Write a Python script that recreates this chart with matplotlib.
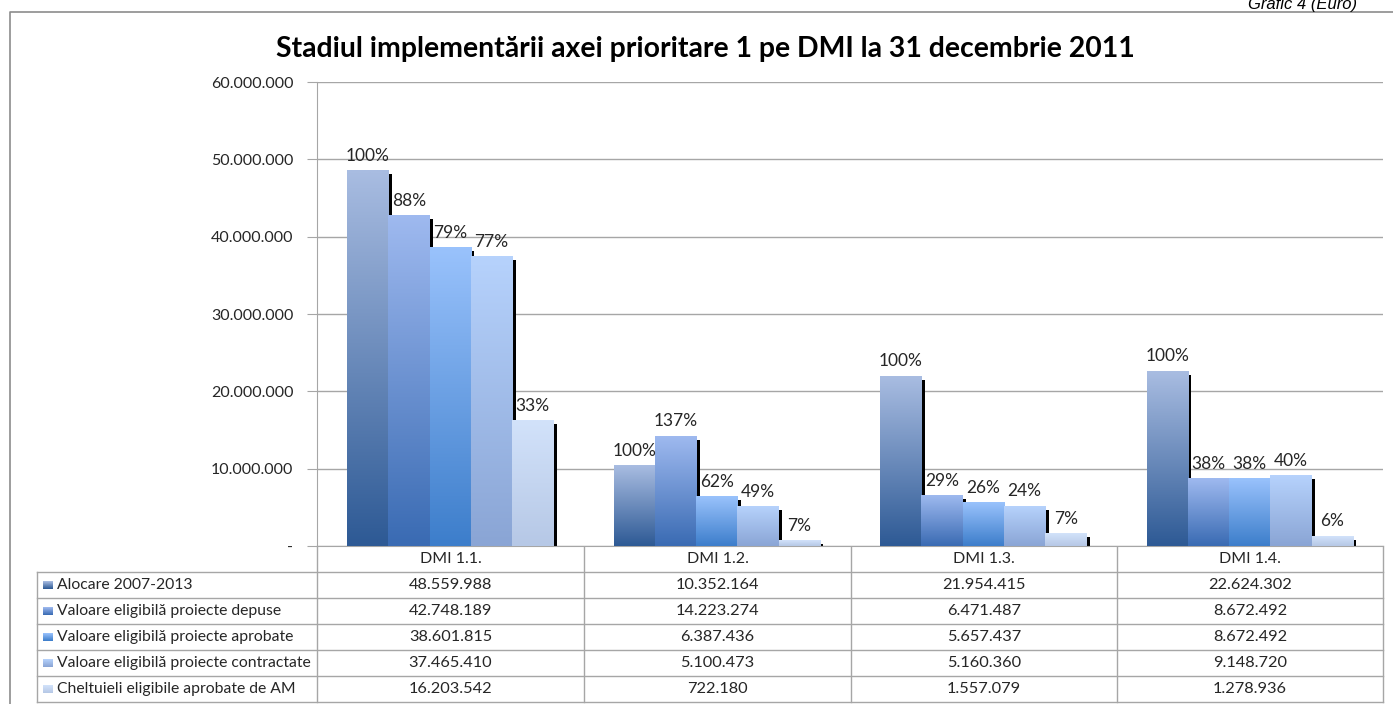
import numpy as np
import matplotlib
matplotlib.use('Agg')
import matplotlib.pyplot as plt
import matplotlib.transforms as mtransforms
from matplotlib.colors import to_rgb
from matplotlib.patches import Rectangle

plt.rcParams['font.family'] = ['Lato', 'DejaVu Sans']

# date
categories = ['DMI 1.1.', 'DMI 1.2.', 'DMI 1.3.', 'DMI 1.4.']
series_names = ['Alocare 2007-2013',
                'Valoare eligibilă proiecte depuse',
                'Valoare eligibilă proiecte aprobate',
                'Valoare eligibilă proiecte contractate',
                'Cheltuieli eligibile aprobate de AM']
alocare = [48559988, 10352164, 21954415, 22624302]
depuse = [42748189, 14223274, 6471487, 8672492]
aprobate = [38601815, 6387436, 5657437, 8672492]
contractate = [37465410, 5100473, 5160360, 9148720]
cheltuieli = [16203542, 722180, 1557079, 1278936]
series = [alocare, depuse, aprobate, contractate, cheltuieli]
y_ticks = [0, 10000000, 20000000, 30000000, 40000000, 50000000, 60000000]

# culori gradient (sus, jos)
colors = [('#a8bce1', '#2e5a95'),
          ('#9eb9ef', '#3a6bb3'),
          ('#99c2fc', '#3d7ecb'),
          ('#b6d2fc', '#8aa5d5'),
          ('#d2e2fa', '#b6c8e6')]
grid_c = '#a6a6a6'
txt_c = '#262626'


def fmt(v):
    return '{:,}'.format(v).replace(',', '.')


def grad_bar(ax, x0, w, h, top, bottom):
    t = np.linspace(0, 1, 64)[:, None]
    c = np.array(to_rgb(bottom)) * (1 - t) + np.array(to_rgb(top)) * t
    ax.imshow(c[:, None, :], extent=(x0, x0 + w, 0, h), origin='lower',
              aspect='auto', zorder=3, interpolation='bilinear')


W, H = 1393, 704
fig = plt.figure(figsize=(W / 100, H / 100), dpi=100)

# overlay in pixeli pentru chenar si tabel
ov = fig.add_axes([0, 0, 1, 1], zorder=0)
ov.set_xlim(0, W)
ov.set_ylim(H, 0)
ov.axis('off')

ax = fig.add_axes([317 / W, 1 - 546 / H, (1383 - 317) / W, (546 - 82) / H], zorder=1)

bw = 0.1546
shadow_tr = mtransforms.offset_copy(ax.transData, fig=fig, x=3.5, y=-3.5, units='dots')
for i, vals in enumerate(series):
    for j, v in enumerate(vals):
        x0 = j + (i - 2.5) * bw
        ax.add_patch(Rectangle((x0, 0), bw, v, transform=shadow_tr,
                               facecolor='black', edgecolor='none', zorder=2))
        grad_bar(ax, x0, bw, v, *colors[i])
        pct = v / alocare[j] * 100
        ax.annotate('{:.0f}%'.format(pct), (x0 + bw / 2, v), xytext=(0, 7),
                    textcoords='offset points', ha='center', va='baseline',
                    fontsize=12.5, color=txt_c, zorder=5)

ax.set_xlim(-0.5, 3.5)
ax.set_ylim(0, 60000000)
ax.set_xticks([])
ax.set_yticks(y_ticks)
ax.set_yticklabels(['-'] + [fmt(v) for v in y_ticks[1:]])
ax.yaxis.grid(True, color=grid_c, lw=1)
ax.set_axisbelow(True)
ax.tick_params(axis='y', length=7, color=grid_c, labelsize=11.5,
               labelcolor=txt_c, pad=10)
for s in ['top', 'right']:
    ax.spines[s].set_visible(False)
for s in ['left', 'bottom']:
    ax.spines[s].set_color(grid_c)

# chenar
ov.plot([9.5, 9.5, W], [H, 11.5, 11.5], color='#8c8c8c', lw=1.2)

# titlu si nota
fig.text(705 / W, 1 - 49 / H,
         'Stadiul implementării axei prioritare 1 pe DMI la 31 decembrie 2011',
         ha='center', va='center', fontsize=20.4, fontweight='bold', color='black')
ov.text(1357, 9, 'Grafic 4 (Euro)', ha='right', va='baseline', fontsize=12,
        style='italic', family='Liberation Sans', color='black')

# tabel
col_x = [317, 584, 851, 1117, 1383]
row_y = [572, 598, 624, 650, 676, 702]
for x in col_x:
    ov.plot([x, x], [546, 702], color=grid_c, lw=1)
ov.plot([37, 37], [572, 702], color=grid_c, lw=1)
for y in row_y:
    ov.plot([37, 1383], [y, y], color=grid_c, lw=1)

for j, cat in enumerate(categories):
    cx = (col_x[j] + col_x[j + 1]) / 2
    ov.text(cx, 559, cat, ha='center', va='center', fontsize=11.5, color=txt_c)
    for i, vals in enumerate(series):
        cy = (row_y[i] + row_y[i + 1]) / 2
        ov.text(cx, cy, fmt(vals[j]), ha='center', va='center', fontsize=11.8, color=txt_c)

for i, name in enumerate(series_names):
    cy = (row_y[i] + row_y[i + 1]) / 2
    t = np.linspace(0, 1, 16)[:, None]
    top, bottom = colors[i]
    c = np.array(to_rgb(bottom)) * (1 - t) + np.array(to_rgb(top)) * t
    ov.imshow(c[:, None, :], extent=(43, 53, cy + 4, cy - 4), origin='lower',
              aspect='auto', zorder=3)
    ov.text(57, cy, name, ha='left', va='center', fontsize=11.3, color=txt_c)

ov.set_xlim(0, W)
ov.set_ylim(H, 0)

fig.savefig('out.png', dpi=100)
